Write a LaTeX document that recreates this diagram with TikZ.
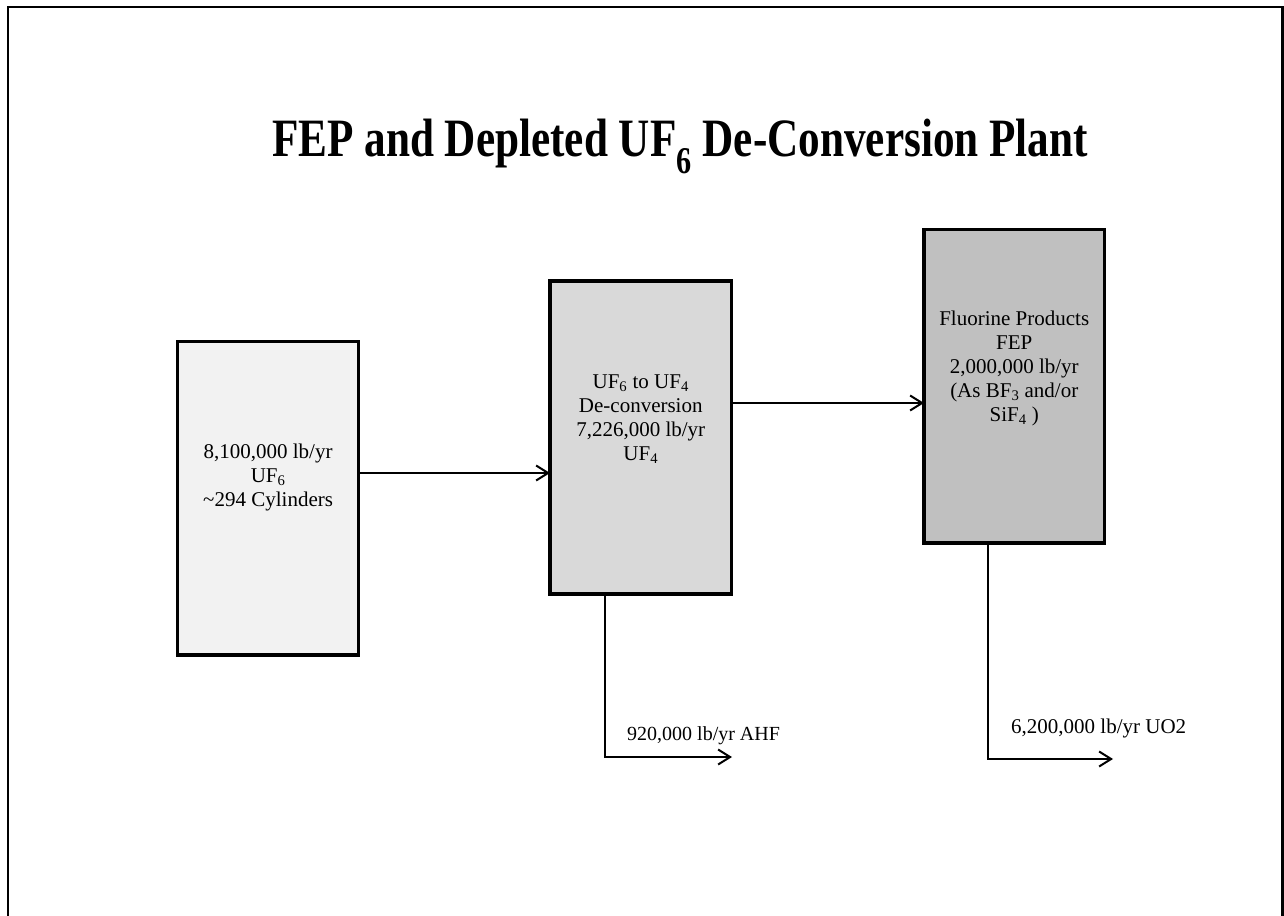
\documentclass[tikz,border=0pt]{standalone}
\usepackage{fontspec}
\setmainfont{Liberation Serif}
\usetikzlibrary{arrows.meta}
\definecolor{fillA}{HTML}{F2F2F2}
\definecolor{fillB}{HTML}{D9D9D9}
\definecolor{fillC}{HTML}{C0C0C0}
\tikzset{
  procbox/.style={draw=black, line width=3.5pt, rectangle, outer sep=0pt, inner sep=0pt, minimum width=181pt, minimum height=313.5pt},
  boxtext/.style={align=center, inner sep=0pt, font=\fontsize{21}{24}\selectfont},
  flowlabel/.style={inner sep=0pt, anchor=base west, font=\fontsize{20}{24}\selectfont},
  flow/.style={draw=black, line width=2pt, -{Straight Barb[length=12pt,width=15pt,line width=2pt]}},
  framestyle/.style={draw=black, line width=2.5pt}
}
\begin{document}
\begin{tikzpicture}[x=1pt,y=-1pt]
\useasboundingbox (0,0) rectangle (1284,915);
\draw[framestyle] (8,7) rectangle (1282.5,960);
\node[anchor=base, inner sep=0pt, font=\fontsize{54}{60}\selectfont\bfseries] (title) at (680,157)
  {\scalebox{0.8}[1]{FEP and Depleted UF\textsubscript{6} De-Conversion Plant}};
% boxes
\node[procbox, fill=fillA, minimum width=181.2pt] (b1) at (268.1,498.25) {};
\node[procbox, fill=fillB, minimum width=181.5pt, minimum height=313pt] (b2) at (640.75,437.5) {};
\node[procbox, fill=fillC, minimum width=180.5pt] (b3) at (1014.25,386.25) {};
% box texts
\node[boxtext] (t1) at (268.1,477) {8,100,000 lb/yr\\UF\textsubscript{6}\\\textasciitilde294 Cylinders};
\node[boxtext] (t2) at (640.75,419) {UF\textsubscript{6} to UF\textsubscript{4}\\De-conversion\\7,226,000 lb/yr\\UF\textsubscript{4}};
\node[boxtext] (t3) at (1014.25,368) {Fluorine Products\\FEP\\2,000,000 lb/yr\\(As BF\textsubscript{3} and/or\\SiF\textsubscript{4} )};
% helper coordinates
\coordinate (y1) at (0,473);
\coordinate (y2) at (0,403);
\coordinate (x1) at (605,0);
\coordinate (x2) at (987.5,0);
\coordinate (e1) at (732,757);
\coordinate (e2) at (1113,759);
% connectors
\draw[flow] (b1.east |- y1) -- (b2.west |- y1);
\draw[flow] (b2.east |- y2) -- (b3.west |- y2);
\draw[flow] (b2.south -| x1) |- (e1);
\draw[flow] (b3.south -| x2) |- (e2);
% labels
\node[flowlabel] (l1) at (627,740) {920,000 lb/yr AHF};
\node[flowlabel, font=\fontsize{21}{24}\selectfont] (l2) at (1011,733) {6,200,000 lb/yr UO2};
\end{tikzpicture}
\end{document}
